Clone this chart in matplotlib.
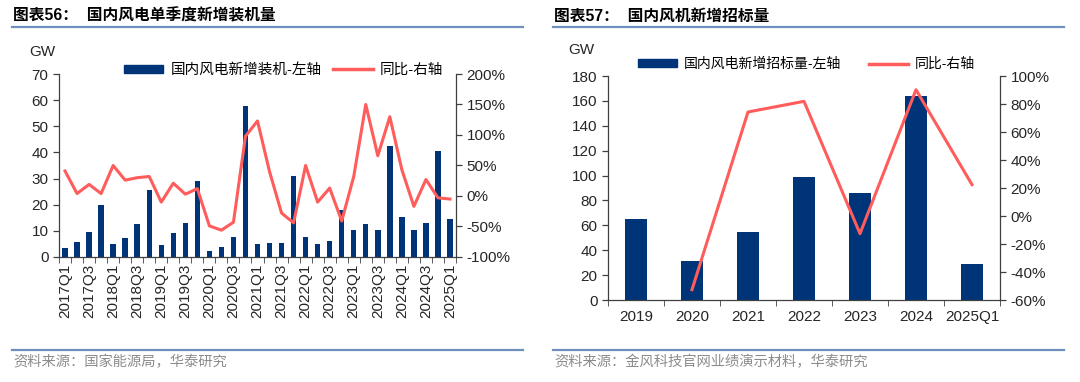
import matplotlib

matplotlib.use("Agg")
import matplotlib.pyplot as plt
import numpy as np
from matplotlib.lines import Line2D
from matplotlib.patches import Patch

plt.rcParams["font.family"] = ["Liberation Sans", "Noto Sans CJK SC"]

BAR_COLOR = "#003478"
LINE_COLOR = "#FF5C5C"
RULE_COLOR = "#6F8FBF"
AXIS_COLOR = "#404040"
TEXT_COLOR = "#262626"
SOURCE_COLOR = "#8C8C8C"

# left chart: quarterly new wind installations
quarters = [f"{y}Q{q}" for y in range(2017, 2026) for q in range(1, 5)][:33]
install_gw = [3.3, 5.9, 9.6, 19.7, 5.1, 7.4, 12.6, 25.8, 4.7, 9.0, 13.0, 28.9,
              2.2, 3.8, 7.5, 57.6, 5.1, 5.5, 5.5, 31.1, 7.8, 5.0, 6.1, 18.1,
              10.3, 12.5, 10.4, 42.4, 15.4, 10.3, 13.1, 40.7, 14.4]
install_yoy = [41, 4, 19, 4, 50, 26, 30, 32, -10, 21, 3, 12,
               -49, -56, -43, 98, 123, 40, -28, -44, 50, -10, 13, -41,
               32, 150, 66, 130, 43, -17, 27, -3, -5]

# right chart: new wind turbine tenders
years = ["2019", "2020", "2021", "2022", "2023", "2024", "2025Q1"]
tender_gw = [65.3, 31.0, 54.3, 98.5, 86.2, 164.3, 28.9]
tender_yoy = [np.nan, -52.6, 74.3, 81.9, -12.6, 90.2, 22.4]

W, H = 1080, 382
fig = plt.figure(figsize=(W / 100, H / 100), dpi=100)


def px_axes(x0, y0, x1, y1):
    return fig.add_axes([x0 / W, 1 - y1 / H, (x1 - x0) / W, (y1 - y0) / H])


def style_axes(ax, ax2):
    for a in (ax, ax2):
        a.spines["top"].set_visible(False)
        for s in ("left", "right", "bottom"):
            a.spines[s].set_color(AXIS_COLOR)
            a.spines[s].set_linewidth(0.9)
        a.tick_params(colors=AXIS_COLOR, labelcolor=TEXT_COLOR, labelsize=11,
                      length=4, width=0.9)
    ax.spines["right"].set_visible(False)
    ax2.spines["left"].set_visible(False)
    ax2.spines["bottom"].set_visible(False)


def header(x0, x1, title, source):
    fig.text(x0 + 1 / W, 1 - 16 / H, title, fontsize=11.3, fontweight="bold",
             color="black", va="center", ha="left")
    fig.add_artist(Line2D([x0, x1], [1 - 27 / H] * 2, color=RULE_COLOR, lw=1.6))
    fig.add_artist(Line2D([x0, x1], [1 - 350 / H] * 2, color=RULE_COLOR, lw=1.6))
    fig.text(x0 + 1 / W, 1 - 362 / H, source, fontsize=10.3, color=SOURCE_COLOR,
             va="center", ha="left")


# ---- left panel ----
header(12 / W, 523 / W, "图表56：  国内风电单季度新增装机量", "资料来源：国家能源局，华泰研究")
ax = px_axes(59, 74, 456, 257)
ax2 = ax.twinx()
pos = np.arange(len(quarters))
ax.bar(pos, install_gw, 0.45, color=BAR_COLOR, zorder=2)
ax2.plot(pos, install_yoy, color=LINE_COLOR, lw=2.2, zorder=3)
ax.set_xlim(-0.5, len(quarters) - 0.5)
ax.set_ylim(0, 70)
ax.set_yticks(np.arange(0, 71, 10))
ax2.set_ylim(-100, 200)
ax2.set_yticks(np.arange(-100, 201, 50))
ax2.set_yticklabels([f"{v}%" for v in range(-100, 201, 50)])
ax.set_xticks(pos[::2])
ax.set_xticklabels(quarters[::2], rotation=90)
ax.set_xticks(np.arange(-0.5, len(quarters), 1), minor=True)
style_axes(ax, ax2)
ax.tick_params(axis="x", which="major", length=0, pad=5)
ax.tick_params(axis="x", which="minor", length=4, color=AXIS_COLOR)
ax.set_zorder(ax2.get_zorder() - 1)
ax.patch.set_visible(False)
fig.text(42 / W, 1 - 52 / H, "GW", fontsize=11, color=TEXT_COLOR, ha="center", va="center")
fig.legend(handles=[Patch(color=BAR_COLOR, label="国内风电新增装机-左轴"),
                    Line2D([], [], color=LINE_COLOR, lw=2.5, label="同比-右轴")],
           loc="center left", bbox_to_anchor=(124 / W, 1 - 70 / H), ncol=2,
           frameon=False, fontsize=10.5, handlelength=2.7, handleheight=0.5,
           handletextpad=0.5, columnspacing=0.8, borderpad=0, borderaxespad=0)

# ---- right panel ----
header(553 / W, 1064 / W, "图表57：  国内风机新增招标量", "资料来源：金风科技官网业绩演示材料，华泰研究")
bx = px_axes(608, 76, 1000, 300)
bx2 = bx.twinx()
ypos = np.arange(len(years))
bx.bar(ypos, tender_gw, 0.4, color=BAR_COLOR, zorder=2)
bx2.plot(ypos, tender_yoy, color=LINE_COLOR, lw=2.2, zorder=3)
bx.set_xlim(-0.5, len(years) - 0.5)
bx.set_ylim(0, 180)
bx.set_yticks(np.arange(0, 181, 20))
bx2.set_ylim(-60, 100)
bx2.set_yticks(np.arange(-60, 101, 20))
bx2.set_yticklabels([f"{v}%" for v in range(-60, 101, 20)])
bx.set_xticks(ypos)
bx.set_xticklabels(years)
bx.set_xticks(np.arange(-0.5, len(years), 1), minor=True)
style_axes(bx, bx2)
bx.tick_params(axis="x", which="major", length=0, pad=7)
bx.tick_params(axis="x", which="minor", length=4, color=AXIS_COLOR)
bx.set_zorder(bx2.get_zorder() - 1)
bx.patch.set_visible(False)
fig.text(581 / W, 1 - 50 / H, "GW", fontsize=11, color=TEXT_COLOR, ha="center", va="center")
fig.legend(handles=[Patch(color=BAR_COLOR, label="国内风电新增招标量-左轴"),
                    Line2D([], [], color=LINE_COLOR, lw=2.5, label="同比-右轴")],
           loc="center left", bbox_to_anchor=(638 / W, 1 - 64 / H), ncol=2,
           frameon=False, fontsize=10, handlelength=2.8, handleheight=0.5,
           handletextpad=0.5, columnspacing=2.0, borderpad=0, borderaxespad=0)

fig.savefig("out.png", dpi=100)
